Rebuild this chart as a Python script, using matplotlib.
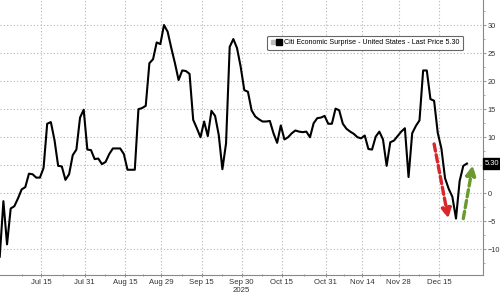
import numpy as np
import pandas as pd
import matplotlib
matplotlib.use("Agg")
import matplotlib.pyplot as plt
from matplotlib.lines import Line2D
from matplotlib.legend_handler import HandlerTuple
from matplotlib.transforms import blended_transform_factory

plt.rcParams['font.family'] = ['Liberation Sans', 'DejaVu Sans']

# Citi Economic Surprise Index - US, one value per business day
start_date = "2025-06-27"
surprise = [
    -11.3, -1.4, -9.1, -2.7, -2.3, -0.9, 0.7, 1.1, 3.5, 3.4,
    2.8, 2.8, 4.5, 12.4, 12.7, 9.5, 4.9, 4.8, 2.4, 3.4,
    6.8, 7.8, 13.5, 14.9, 7.8, 7.7, 6.1, 6.2, 5.2, 5.6,
    7.0, 8.0, 8.0, 8.0, 7.0, 4.2, 4.2, 4.2, 15.0, 15.2,
    15.6, 23.2, 23.9, 26.9, 26.6, 30.0, 28.8, 25.9, 23.2, 20.2,
    21.9, 21.8, 21.3, 13.1, 11.6, 10.0, 12.8, 10.2, 14.7, 13.8,
    10.4, 4.3, 8.9, 26.1, 27.5, 25.9, 22.6, 18.4, 18.1, 14.8,
    13.7, 13.2, 12.8, 12.8, 12.9, 10.7, 9.0, 12.1, 9.6, 10.0,
    10.7, 11.2, 11.0, 10.9, 11.0, 10.0, 12.5, 13.4, 13.5, 13.8,
    12.4, 12.4, 15.1, 14.8, 12.4, 11.5, 11.0, 10.6, 10.0, 9.8,
    10.3, 7.9, 7.8, 10.1, 11.0, 9.6, 4.9, 9.1, 9.4, 10.2,
    11.0, 11.6, 2.9, 10.7, 12.0, 13.0, 21.9, 21.9, 16.8, 16.5,
    10.8, 8.0, 2.7, 0.8, -0.6, -4.5, 2.2, 4.9, 5.3,
]
last_price = 5.30

tick_dates = ["2025-07-15", "2025-07-31", "2025-08-15", "2025-08-29", "2025-09-15",
              "2025-09-30", "2025-10-15", "2025-10-31", "2025-11-14", "2025-11-28",
              "2025-12-15"]
tick_labels = ["Jul 15", "Jul 31", "Aug 15", "Aug 29", "Sep 15", "Sep 30\n2025",
               "Oct 15", "Oct 31", "Nov 14", "Nov 28", "Dec 15"]
y_ticks = [-10, -5, 0, 5, 10, 15, 20, 25, 30]

# hand drawn arrows (business-day index, value)
red_arrow = [(119.0, 8.8), (122.9, -4.5)]
green_arrow = [(127.0, -4.5), (129.6, 5.0)]

dates = pd.bdate_range(start_date, periods=len(surprise))
x = np.arange(len(surprise))
# tick positions on the business-day axis
tick_pos = [dates.get_loc(pd.Timestamp(d)) - 0.7 for d in tick_dates]
minor_pos = [tick_pos[0] - 5.3] + [(a + b) / 2 for a, b in zip(tick_pos[:-1], tick_pos[1:])]

fig = plt.figure(figsize=(5.0, 2.93), dpi=100)
ax = fig.add_axes([0.0, 18 / 293, 483 / 500, 275 / 293])

ax.plot(x, surprise, color="black", lw=1.5, zorder=3)

ax.set_xlim(0.07, 132.4)
ax.set_ylim(-14.56, 34.46)

ax.set_xticks(tick_pos)
ax.set_xticklabels(tick_labels)
ax.set_xticks(minor_pos, minor=True)
ax.set_yticks(y_ticks)
ax.set_yticks(np.arange(-12.5, 35, 2.5), minor=True)
ax.yaxis.tick_right()

ax.grid(True, which="major", color="#b5b5b5", lw=0.8, linestyle=(0, (1, 2)))
ax.tick_params(axis="x", which="major", length=3, width=0.6, color="#888888",
               direction="inout", labelsize=5.6, labelcolor="#333333", pad=1.5)
ax.tick_params(axis="x", which="minor", length=2, width=0.6, color="#888888", direction="inout")
ax.tick_params(axis="y", which="major", length=2.5, width=0.6, color="#888888",
               labelsize=5.3, labelcolor="#333333", pad=1)
ax.tick_params(axis="y", which="minor", length=1.5, width=0.5, color="#888888")

# the "5" label sits under the last-price tag
for lab in ax.get_yticklabels():
    if lab.get_text() in ("5",):
        lab.set_visible(False)

for side in ["left", "top"]:
    ax.spines[side].set_visible(False)
for side in ["right", "bottom"]:
    ax.spines[side].set_color("#888888")
    ax.spines[side].set_linewidth(0.8)

# legend: small grey box + black square + text
h_grey = Line2D([], [], ls="", marker="s", ms=2.5, color="#bbbbbb")
h_black = Line2D([], [], ls="", marker="s", ms=4.5, color="black")
leg = ax.legend([(h_grey, h_black)], ["Citi Economic Surprise - United States - Last Price 5.30"],
                handler_map={tuple: HandlerTuple(ndivide=None, pad=0.2)},
                loc="center", bbox_to_anchor=(0.756, 0.844), fontsize=5.1,
                frameon=True, fancybox=True, edgecolor="#666666", framealpha=1,
                handlelength=1.5, handletextpad=0.3, borderpad=0.55)
leg.get_frame().set_linewidth(0.8)

# last price tag on the right axis
trans = blended_transform_factory(ax.transAxes, ax.transData)
ax.text(1.004, last_price, "%.2f" % last_price, transform=trans, color="white",
        fontsize=5.4, va="center", ha="left", clip_on=False, zorder=5,
        bbox=dict(boxstyle="square,pad=0.25", fc="black", ec="black"))

for pts, col in [(red_arrow, "#d8262b"), (green_arrow, "#6a9a2e")]:
    ax.annotate("", xy=pts[1], xytext=pts[0],
                arrowprops=dict(arrowstyle="-|>", color=col, lw=2.4, linestyle=(0, (2.2, 1.1)),
                                mutation_scale=14, shrinkA=0, shrinkB=0, capstyle="round"),
                zorder=4)

fig.savefig("out.png", dpi=100)
